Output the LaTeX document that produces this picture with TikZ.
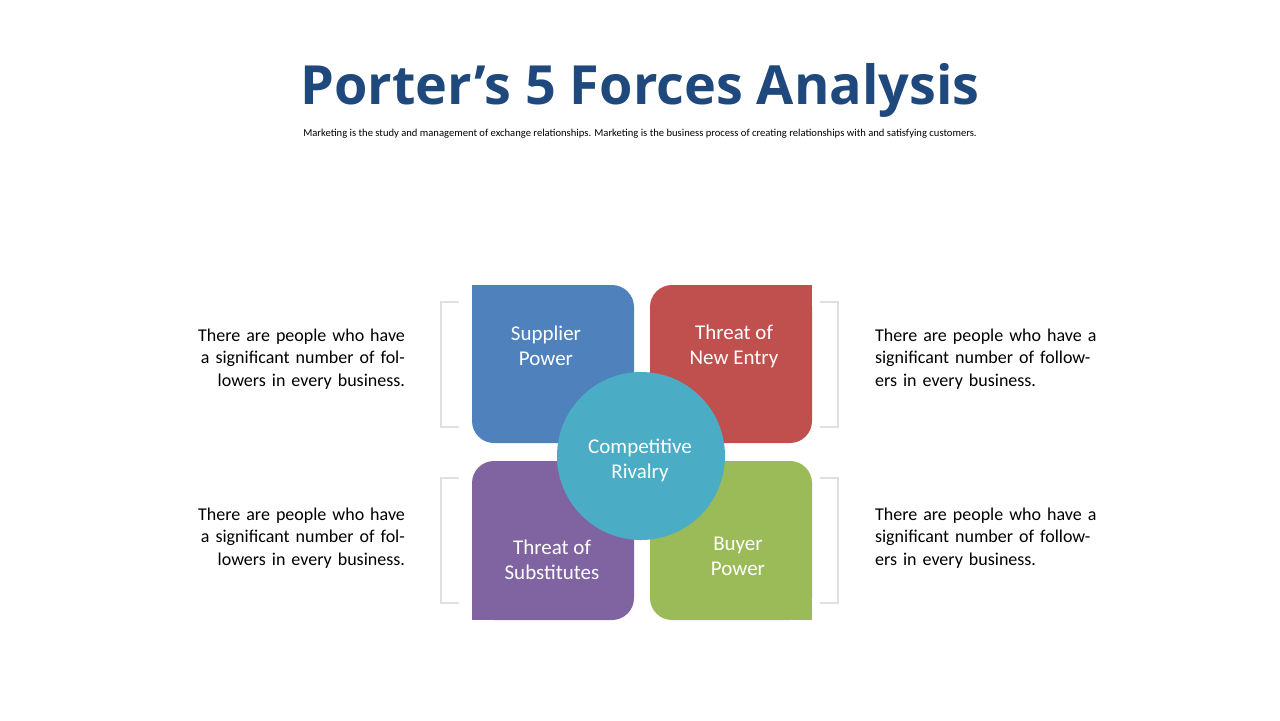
\documentclass[tikz,border=0pt]{standalone}
\usepackage{fontspec}
\setmainfont{Carlito}
\newfontfamily\titlefont{Open Sans}
\definecolor{pblue}{HTML}{4F81BD}
\definecolor{pred}{HTML}{C0504D}
\definecolor{ppurple}{HTML}{8064A2}
\definecolor{pgreen}{HTML}{9BBB59}
\definecolor{pcyan}{HTML}{4BACC6}
\definecolor{ptitle}{HTML}{1F497D}
\tikzset{
  tile/.style={rounded corners=11pt},
  lbl/.style={text=white,font=\fontsize{10.5}{12.5}\selectfont,align=center},
  note/.style={font=\fontsize{9}{11.2}\selectfont,text width=115pt},
  brk/.style={draw=black!12,line width=0.8pt}
}
\begin{document}
\begin{tikzpicture}[x=0.5pt,y=-0.5pt]
  \useasboundingbox (0,0) rectangle (1280,720);
  \node[font=\titlefont\bfseries\fontsize{27}{32}\selectfont,text=ptitle] (title) at (640,90) {Porter’s 5 Forces Analysis};
  \node[font=\fontsize{5.3}{6}\selectfont] (sub) at (640,134) {Marketing is the study and management of exchange relationships. Marketing is the business process of creating relationships with and satisfying customers.};

  % tiles
  \fill[pblue,tile] (472,285) rectangle (634,443);
  \fill[pblue] (472,285) rectangle (500,320);
  \fill[pred,tile] (650,285) rectangle (812,443);
  \fill[pred] (784,285) rectangle (812,320);
  \fill[ppurple,tile] (472,461) rectangle (634,620);
  \fill[ppurple] (472,590) rectangle (500,620);
  \fill[pgreen,tile] (650,461) rectangle (812,620);
  \fill[pgreen] (784,590) rectangle (812,620);
  \fill[pcyan] (641,456) circle (84);

  \node[lbl] (supplier) at (546,346) {Supplier\\Power};
  \node[lbl] (entry) at (734,346) {Threat of\\New Entry};
  \node[lbl] (subst) at (552,560) {Threat of\\Substitutes};
  \node[lbl] (buyer) at (738,556) {Buyer\\Power};
  \node[lbl] (rivalry) at (640,460) {Competitive\\Rivalry};

  % brackets
  \foreach \y in {302,478} {
    \draw[brk] (459,\y) -- (441,\y) -- (441,\y+125) -- (459,\y+125);
    \draw[brk] (820,\y) -- (838,\y) -- (838,\y+125) -- (820,\y+125);
  }

  \node[note,align=right,anchor=east] (tl) at (412,359) {There are people who have a significant number of followers in every business.};
  \node[note,align=left,anchor=west] (tr) at (868,359) {There are people who have a significant number of followers in every business.};
  \node[note,align=right,anchor=east] (bl) at (412,538) {There are people who have a significant number of followers in every business.};
  \node[note,align=left,anchor=west] (br) at (868,538) {There are people who have a significant number of followers in every business.};
\end{tikzpicture}
\end{document}
